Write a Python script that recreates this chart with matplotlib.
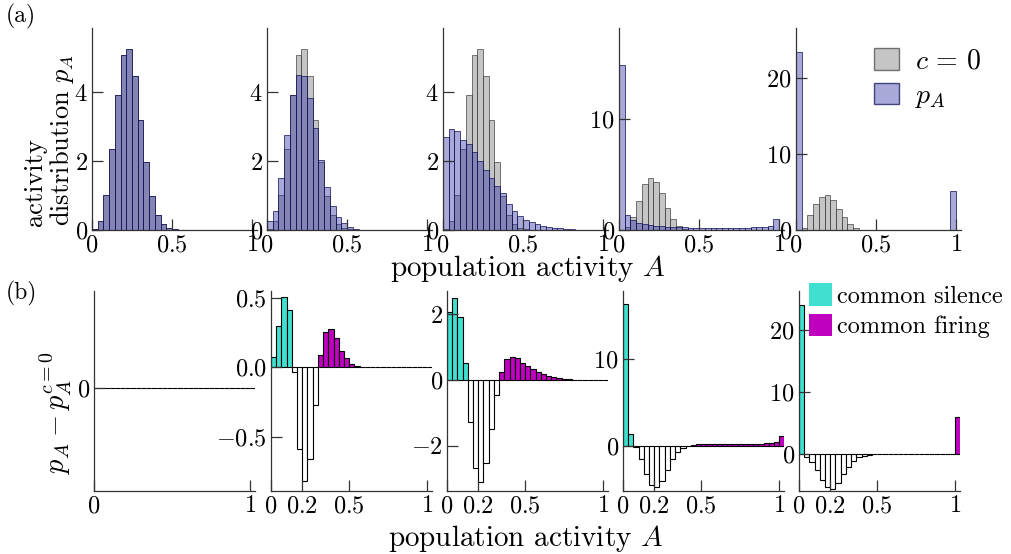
import numpy as np
import matplotlib
matplotlib.use('Agg')
import matplotlib.pyplot as plt
from matplotlib.patches import Patch

plt.rcParams['font.family'] = 'serif'
plt.rcParams['font.serif'] = ['cmr10', 'DejaVu Serif']
plt.rcParams['mathtext.fontset'] = 'cm'
plt.rcParams['axes.unicode_minus'] = False

# ---- data (densities) ----
n_top = 28   # bins in the top row
n_bot = 30   # bins in the bottom row (bars at k/n_bot, k = 0..n_bot)

# c = 0 reference distributions (top row, grey)
p0_a = [0.04, 0.25, 1.02, 2.35, 3.91, 5.08, 5.26, 4.47, 3.19, 1.97, 1.0, 0.44, 0.17, 0.06,
        0.02, 0.01, 0, 0, 0, 0, 0, 0, 0, 0, 0, 0, 0, 0]
p0_d = [0, 0.3, 1.2, 2.6, 4.1, 4.65, 4.3, 3.3, 2.0, 1.0, 0.4, 0.1, 0, 0,
        0, 0, 0, 0, 0, 0, 0, 0, 0, 0, 0, 0, 0, 0]
p0_e = [0, 0.3, 2.0, 3.4, 4.4, 4.6, 4.0, 2.7, 1.7, 0.8, 0.26, 0.05, 0, 0,
        0, 0, 0, 0, 0, 0, 0, 0, 0, 0, 0, 0, 0, 0]

# activity distributions p_A (top row, blue)
pA_a = p0_a
pA_b = [0.27, 0.56, 1.51, 2.75, 3.91, 4.51, 4.47, 3.83, 2.96, 2.02, 1.26, 0.71, 0.39, 0.2,
        0.08, 0.03, 0.01, 0, 0, 0, 0, 0, 0, 0, 0, 0, 0, 0]
pA_c = [2.7, 2.92, 2.87, 2.62, 2.5, 2.26, 1.99, 1.73, 1.5, 1.29, 1.07, 0.74, 0.56, 0.42,
        0.29, 0.22, 0.17, 0.13, 0.1, 0.07, 0.05, 0.03, 0.02, 0.01, 0, 0, 0, 0]
pA_d = [14.9, 1.35, 0.9, 0.66, 0.54, 0.45, 0.38, 0.33, 0.3, 0.27, 0.25, 0.23, 0.22, 0.21,
        0.2, 0.2, 0.2, 0.2, 0.2, 0.2, 0.2, 0.21, 0.22, 0.23, 0.25, 0.28, 0.35, 1.0]
pA_e = [23.4, 0, 0, 0, 0, 0, 0, 0, 0, 0, 0, 0, 0, 0,
        0, 0, 0, 0, 0, 0, 0, 0, 0, 0, 0, 0, 0, 5.15]

# differences p_A - p_A^{c=0} (bottom row)
d_a = [0] * 31
d_b = [0.075, 0.30, 0.51, 0.41, -0.035, -0.59, -0.815, -0.66, -0.27, 0.087, 0.255, 0.276,
       0.21, 0.12, 0.065, 0.022, 0.007, 0.002, 0, 0, 0, 0, 0, 0, 0, 0, 0, 0, 0, 0, 0]
d_c = [2.08, 2.49, 1.93, 0.53, -1.27, -2.67, -3.1, -2.54, -1.5, -0.46, 0.25, 0.63, 0.71,
       0.66, 0.53, 0.44, 0.35, 0.25, 0.18, 0.12, 0.08, 0.05, 0.03, 0.02, 0.01, 0, 0, 0, 0, 0, 0]
d_d = [16.4, 1.3, -0.15, -1.6, -3.3, -4.55, -4.8, -4.05, -2.8, -1.55, -0.7, -0.23, -0.05,
       0.1, 0.15, 0.17, 0.18, 0.2, 0.2, 0.2, 0.2, 0.2, 0.21, 0.22, 0.22, 0.23, 0.24, 0.26,
       0.3, 0.45, 1.16]
d_e = [24.1, -0.4, -1.2, -2.5, -4.1, -5.3, -5.5, -4.65, -3.2, -2.0, -1.0, -0.5, -0.2, -0.07,
       0, 0, 0, 0, 0, 0, 0, 0, 0, 0, 0, 0, 0, 0, 0, 0, 6.0]

p0_top = [p0_a, p0_a, p0_a, p0_d, p0_e]
pA_top = [pA_a, pA_b, pA_c, pA_d, pA_e]
diffs = [d_a, d_b, d_c, d_d, d_e]

top_ylim = [5.86, 5.86, 5.86, 18.2, 26.6]
top_yticks = [[0, 2, 4], [0, 2, 4], [0, 2, 4], [0, 10], [0, 10, 20]]
bot_ylim = [(-1.0, 0.95), (-0.89, 0.55), (-3.38, 2.71), (-5.25, 17.9), (-5.9, 26.3)]
bot_yticks = [['0'], ['-0.5', '0.0', '0.5'], ['-2', '0', '2'], ['0', '10'], ['0', '10', '20']]
top_xticks = ['0', '0.5', '1']
bot_xticks = ['0', '0.2', '0.5', '1']

# ---- layout (pixels) ----
W, H = 1011, 554
fig = plt.figure(figsize=(W / 100, H / 100), dpi=100)

def add_ax(left, top, width, height):
    return fig.add_axes([left / W, 1 - (top + height) / H, width / W, height / H])

grey_face = (0.5, 0.5, 0.5, 0.45)
grey_edge = (0.25, 0.25, 0.25, 0.7)
blue_face = (0.10, 0.12, 0.60, 0.38)
blue_edge = (0.08, 0.08, 0.35, 0.75)
silence = '#40e0d0'
firing = '#bf00bf'

def style(ax):
    for s in ['top', 'right']:
        ax.spines[s].set_visible(False)
    for s in ['left', 'bottom']:
        ax.spines[s].set_color('#333333')
        ax.spines[s].set_linewidth(0.9)
    ax.tick_params(direction='in', length=8, width=0.9, labelsize=17.5, pad=3,
                   color='#333333')

def mlabels(labels):
    return ['$' + s + '$' for s in labels]

x_top = np.arange(n_top) / n_top
x_bot = np.arange(n_bot + 1) / n_bot

top_lefts = [92, 267, 443, 619, 796]
bot_lefts = [94, 271, 447, 623, 799]

top_axes = []
for i in range(5):
    ax = add_ax(top_lefts[i], 28, 165, 202)
    ax.bar(x_top, p0_top[i], width=1 / n_top, align='edge', color=grey_face,
           edgecolor=grey_edge, linewidth=0.7)
    ax.bar(x_top, pA_top[i], width=1 / n_top, align='edge', color=blue_face,
           edgecolor=blue_edge, linewidth=0.7)
    ax.set_xlim(0, 1.03)
    ax.set_ylim(0, top_ylim[i])
    ax.set_xticks([float(t) for t in top_xticks], mlabels(top_xticks))
    ax.set_yticks(top_yticks[i], mlabels([str(t) for t in top_yticks[i]]))
    style(ax)
    top_axes.append(ax)

bot_axes = []
for i in range(5):
    ax = add_ax(bot_lefts[i], 291, 161, 200)
    d = np.array(diffs[i])
    colors = np.where(d > 0, np.where(x_bot < 0.2, silence, firing), 'white')
    ax.bar(x_bot, d, width=1 / n_bot, align='edge', color=colors,
           edgecolor='k', linewidth=0.8)
    ax.set_xlim(0, 1.03)
    ax.set_ylim(*bot_ylim[i])
    xt = ['0', '1'] if i == 0 else bot_xticks
    ax.set_xticks([float(t) for t in xt], mlabels(xt))
    ax.set_yticks([float(t) for t in bot_yticks[i]], mlabels(bot_yticks[i]))
    style(ax)
    bot_axes.append(ax)

# ---- labels ----
fig.text(35 / W, 1 - 226 / H, 'activity', rotation=90, ha='center', va='bottom', fontsize=19)
fig.text(62 / W, 1 - 226 / H, r'distribution $p_A$', rotation=90, ha='center', va='bottom',
         fontsize=19)
fig.text(56 / W, 1 - 413 / H, r'$p_A - p_A^{c=0}$', rotation=90, ha='center', va='center',
         fontsize=20.5)
fig.text(528 / W, 1 - 268 / H, r'population activity $A$', ha='center', va='center', fontsize=21)
fig.text(526 / W, 1 - 539 / H, r'population activity $A$', ha='center', va='center', fontsize=21)
fig.text(6 / W, 1 - 16 / H, '(a)', ha='left', va='center', fontsize=17)
fig.text(6 / W, 1 - 293 / H, '(b)', ha='left', va='center', fontsize=17)

top_handles = [Patch(facecolor=grey_face, edgecolor=grey_edge),
               Patch(facecolor=blue_face, edgecolor=blue_edge)]
top_axes[4].legend(top_handles, ['$c\\,=\\,0$', '$p_A$'], loc='upper left',
                   bbox_to_anchor=(0.47, 0.9), frameon=False, fontsize=20,
                   handlelength=0.9, handleheight=0.8, handletextpad=0.6,
                   labelspacing=0.3, borderpad=0, borderaxespad=0)

bot_handles = [Patch(facecolor=silence), Patch(facecolor=firing)]
bot_axes[4].legend(bot_handles, ['common silence', 'common firing'], loc='upper left',
                   bbox_to_anchor=(0.06, 1.04), frameon=False, fontsize=17.5,
                   handlelength=0.95, handleheight=1.05, handletextpad=0.2,
                   labelspacing=0.25, borderpad=0, borderaxespad=0)

fig.savefig('out.png', dpi=100)
